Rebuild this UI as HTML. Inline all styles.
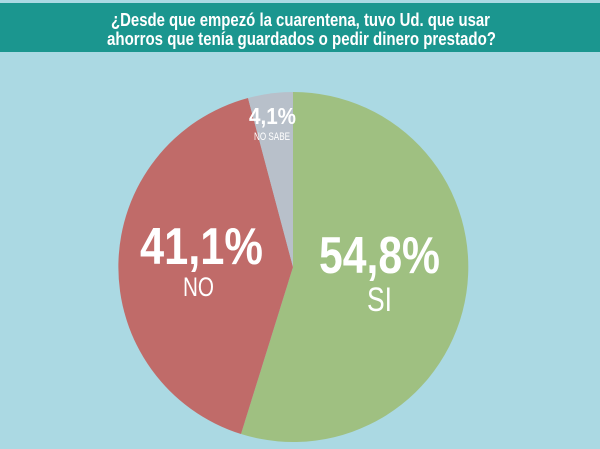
<!DOCTYPE html>
<html><head><meta charset="utf-8"><style>
body{margin:0;width:600px;height:449px;background:#abd9e3;overflow:hidden;font-family:"Liberation Sans",sans-serif}
</style></head><body>
<svg width="600" height="449" xmlns="http://www.w3.org/2000/svg" style="position:absolute;left:0;top:0">
<rect width="600" height="449" fill="#abd9e3"/>
<rect x="0" y="3" width="600" height="49" fill="#1b968f"/>
<g font-family="Liberation Sans, sans-serif" font-weight="bold" fill="#fff">
<text x="111" y="26" font-size="18" textLength="379" lengthAdjust="spacingAndGlyphs">¿Desde que empezó la cuarentena, tuvo Ud. que usar</text>
<text x="107" y="45" font-size="18" textLength="389" lengthAdjust="spacingAndGlyphs">ahorros que tenía guardados o pedir dinero prestado?</text>
</g>
<path d="M293,267 L293,92 A175,175 0 1 1 241,434 Z" fill="#9fc081"/>
<path d="M293,267 L241,434 A175,175 0 0 1 248,98 Z" fill="#c06b69"/>
<path d="M293,267 L248,98 A175,175 0 0 1 293,92 Z" fill="#b8c0ca"/>
<g font-family="Liberation Sans, sans-serif" fill="#fff">
<text x="249" y="124" font-size="23" font-weight="bold" textLength="47" lengthAdjust="spacingAndGlyphs">4,1%</text>
<text x="254" y="140" font-size="11" textLength="36" lengthAdjust="spacingAndGlyphs">NO SABE</text>
<text x="140" y="264" font-size="52" font-weight="bold" textLength="123" lengthAdjust="spacingAndGlyphs">41,1%</text>
<text x="183" y="296" font-size="27" textLength="31" lengthAdjust="spacingAndGlyphs">NO</text>
<text x="319" y="273" font-size="52" font-weight="bold" textLength="121" lengthAdjust="spacingAndGlyphs">54,8%</text>
<text x="367" y="311" font-size="34" textLength="25" lengthAdjust="spacingAndGlyphs">SI</text>
</g>
</svg>
</body></html>
